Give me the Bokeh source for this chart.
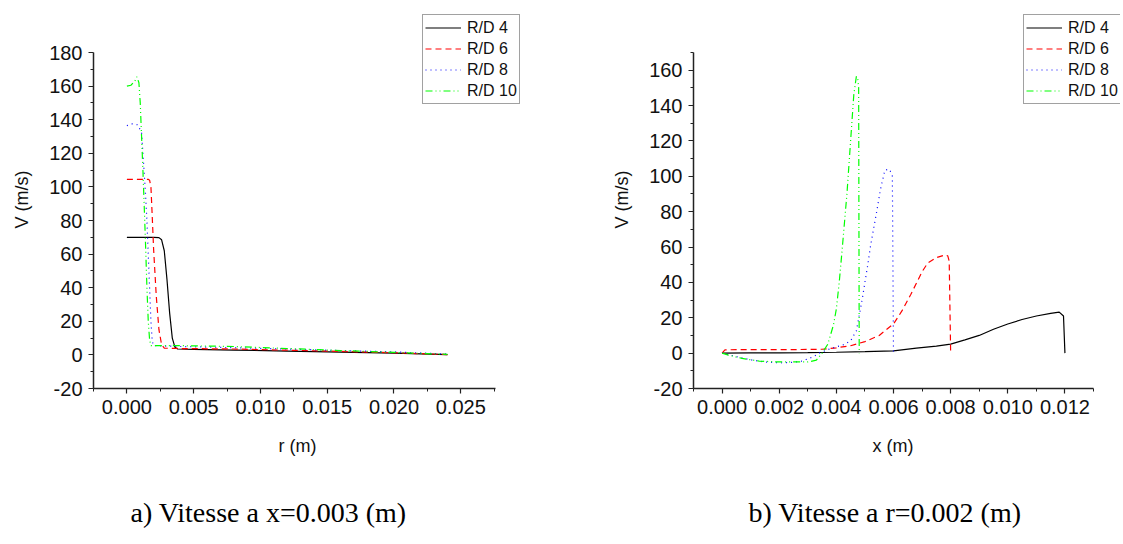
from bokeh.plotting import figure
from bokeh.models import (Range1d, FixedTicker, PrintfTickFormatter, Legend, LegendItem, Title)
from bokeh.layouts import row
from bokeh.embed import file_html
from bokeh.resources import INLINE

series_names = ["R/D 4", "R/D 6", "R/D 8", "R/D 10"]

# Panel a) velocity at x=0.003 m versus r
a_r4 = [0, 0.0005, 0.001, 0.0015, 0.002, 0.0024, 0.0026, 0.0028, 0.0030, 0.0032, 0.0034, 0.0036, 0.0038, 0.005, 0.008, 0.012, 0.016, 0.020, 0.024]
a_v4 = [70, 70, 70, 70, 70, 69.8, 68.5, 62, 45, 25, 10, 4.5, 3.5, 3.3, 2.9, 2.3, 1.7, 1.0, 0.2]
a_r6 = [0, 0.0008, 0.0016, 0.0017, 0.0018, 0.0019, 0.002, 0.0022, 0.0024, 0.0026, 0.0028, 0.004, 0.008, 0.012, 0.016, 0.020, 0.024]
a_v6 = [104.5, 104.5, 104.5, 104, 100, 82, 63, 35, 15, 6, 4, 3.8, 3.5, 2.8, 2.1, 1.3, 0.2]
a_r8 = [0, 0.0004, 0.0008, 0.001, 0.0011, 0.0012, 0.0013, 0.0014, 0.0015, 0.0016, 0.0017, 0.0018, 0.0019, 0.002, 0.004, 0.008, 0.012, 0.016, 0.020, 0.024]
a_v8 = [136.5, 137.5, 137, 134, 132, 120, 108, 95, 80, 60, 40, 20, 8, 5.5, 5, 4.3, 3.5, 2.6, 1.8, 0.5]
a_r10 = [0, 0.0003, 0.0006, 0.00075, 0.0009, 0.001, 0.0011, 0.0012, 0.0013, 0.0014, 0.0015, 0.0016, 0.0017, 0.0018, 0.004, 0.008, 0.012, 0.016, 0.020, 0.024]
a_v10 = [160, 160.5, 163, 165.5, 162, 150, 130, 110, 88, 65, 40, 20, 9, 5.5, 5.5, 5, 3.8, 2.6, 1.5, 0.3]

# Panel b) velocity at r=0.002 m versus x
b_x4 = [0, 0.001, 0.002, 0.003, 0.004, 0.005, 0.006, 0.0068, 0.0075, 0.008, 0.0085, 0.009, 0.0095, 0.01, 0.0105, 0.011, 0.0115, 0.0118, 0.01195, 0.012]
b_v4 = [0, 0.1, 0.2, 0.3, 0.5, 0.8, 1.3, 2.8, 4, 5.1, 7.5, 10, 13.5, 16.5, 19, 21, 22.5, 23.2, 21, 0]
b_x6 = [0, 0.0001, 0.0005, 0.0015, 0.0025, 0.0035, 0.004, 0.0045, 0.005, 0.0055, 0.006, 0.0063, 0.0066, 0.007, 0.0072, 0.0075, 0.0078, 0.0079, 0.00795, 0.008]
b_v6 = [0, 1.8, 2, 2, 2, 2.2, 3, 4.2, 6.5, 10, 16.5, 24, 33, 46, 51, 54, 55.5, 55, 52, 0]
b_x8 = [0, 0.0005, 0.001, 0.0015, 0.002, 0.0025, 0.0028, 0.0032, 0.0034, 0.0037, 0.004, 0.0043, 0.0045, 0.0047, 0.0049, 0.0051, 0.0052, 0.0054, 0.00555, 0.0057, 0.00585, 0.00592, 0.00596, 0.006]
b_v8 = [0, -2, -3.8, -5, -5.5, -5.2, -4.5, -2, 0, 2, 3.5, 5, 7, 12.6, 30, 50, 61, 79, 93, 103.5, 104, 102, 100, 0]
b_x10 = [0, 0.0002, 0.0007, 0.0013, 0.002, 0.0025, 0.003, 0.0033, 0.0035, 0.0037, 0.0039, 0.004, 0.0041, 0.0042, 0.00437, 0.00449, 0.00461, 0.0047, 0.00475, 0.00478, 0.0048]
b_v10 = [0, -1, -3, -4.5, -5, -5, -5, -4, 0, 5, 16, 25, 40, 58, 90, 118, 146, 156.5, 155, 150, 0]

a_xticks = [0.0, 0.005, 0.010, 0.015, 0.020, 0.025]
a_xminor = [-0.0025, 0.0025, 0.0075, 0.0125, 0.0175, 0.0225, 0.0275]
a_yticks = [-20, 0, 20, 40, 60, 80, 100, 120, 140, 160, 180]
a_yminor = [-10, 10, 30, 50, 70, 90, 110, 130, 150, 170]
b_xticks = [0.0, 0.002, 0.004, 0.006, 0.008, 0.010, 0.012]
b_xminor = [-0.001, 0.001, 0.003, 0.005, 0.007, 0.009, 0.011, 0.013]
b_yticks = [-20, 0, 20, 40, 60, 80, 100, 120, 140, 160]
b_yminor = [-10, 10, 30, 50, 70, 90, 110, 130, 150, 170]

colors = ["#000000", "#ff0000", "#0000ff", "#00ff00"]
dashes = ["solid", "6 4", "1 4", "7 3 1 3 1 3"]

SANS = "Liberation Sans"
SERIF = "Liberation Serif"

FIG_H = 544
FRAME_TOP = 10        # frame top (px) - extra room above the axis for the legend
AXIS_TOP = 52         # top end of the drawn y axis (px)
AXIS_BOTTOM = 388     # x axis position (px)


def make_panel(width, frame_left, axis_len, frame_w, xb, yb, xt, xm, yt, ym, xlabel,
               xlabel_offset, series, leg_x, caption, cap_offset):
    ppx = axis_len / (xb[1] - xb[0])
    x_end = xb[1] + (frame_w - axis_len) / ppx
    ppy = (AXIS_BOTTOM - AXIS_TOP) / (yb[1] - yb[0])
    y_end = yb[1] + (AXIS_TOP - FRAME_TOP) / ppy
    frame_h = AXIS_BOTTOM - FRAME_TOP
    p = figure(width=width, height=FIG_H, output_backend="svg", toolbar_location=None,
               x_range=Range1d(xb[0], x_end), y_range=Range1d(yb[0], y_end),
               min_border_left=frame_left, min_border_right=width - frame_left - frame_w,
               min_border_top=FRAME_TOP, min_border_bottom=FIG_H - AXIS_BOTTOM)
    p.frame_width = frame_w
    p.frame_height = frame_h
    p.grid.visible = False
    p.outline_line_color = None
    p.background_fill_color = "white"
    p.border_fill_color = "white"
    p.xaxis.bounds = xb
    p.yaxis.bounds = yb
    p.xaxis.ticker = FixedTicker(ticks=xt, minor_ticks=xm)
    p.yaxis.ticker = FixedTicker(ticks=yt, minor_ticks=ym)
    p.xaxis.formatter = PrintfTickFormatter(format="%.3f")
    p.yaxis.formatter = PrintfTickFormatter(format="%d")
    p.yaxis.axis_label = "V (m/s)"
    for ax in (p.xaxis[0], p.yaxis[0]):
        ax.axis_line_color = "#222222"
        ax.axis_line_width = 1.5
        ax.major_tick_line_color = "#222222"
        ax.minor_tick_line_color = "#222222"
        ax.major_tick_line_width = 1.2
        ax.major_tick_out = 5
        ax.major_tick_in = 0
        ax.minor_tick_out = 3
        ax.minor_tick_in = 0
        ax.major_label_text_font = SANS
        ax.major_label_text_font_size = "20px"
        ax.major_label_text_color = "#111111"
        ax.axis_label_text_font = SANS
        ax.axis_label_text_font_size = "18px"
        ax.axis_label_text_font_style = "normal"
        ax.axis_label_text_color = "#111111"
    p.xaxis.major_label_standoff = 6
    p.yaxis.major_label_standoff = 6
    p.yaxis.axis_label_standoff = 14

    items = []
    for name, (xs, ys), c, d in zip(series_names, series, colors, dashes):
        r = p.line(xs, ys, line_color=c, line_width=1.2, line_dash=d)
        items.append(LegendItem(label=name, renderers=[r]))
    leg = Legend(items=items, location=(leg_x, 284), orientation="vertical",
                 label_text_font=SANS, label_text_font_size="16px", label_text_color="#111111",
                 glyph_width=36, glyph_height=21, label_height=21, label_standoff=6,
                 spacing=0, padding=2, margin=0,
                 border_line_color="#444444", border_line_width=1.5,
                 background_fill_color="white", background_fill_alpha=1.0)
    p.add_layout(leg, "center")
    xt_title = Title(text=xlabel, align="left", offset=xlabel_offset, standoff=34,
                     text_font=SANS, text_font_size="18px", text_font_style="normal",
                     text_color="#111111")
    p.add_layout(xt_title, "below")
    cap = Title(text=caption, align="left", offset=cap_offset, standoff=44,
                text_font=SERIF, text_font_size="28px", text_font_style="normal",
                text_color="#000000")
    p.add_layout(cap, "below")
    return p


p1 = make_panel(565, 93, 402, 450, (-0.0025, 0.0276), (-20, 180), a_xticks, a_xminor,
                a_yticks, a_yminor, "r (m)", 185,
                [(a_r4, a_v4), (a_r6, a_v6), (a_r8, a_v8), (a_r10, a_v10)],
                329, "a) Vitesse a x=0.003 (m)", 37)
p2 = make_panel(558, 128, 400, 427, (-0.001, 0.013), (-20, 170), b_xticks, b_xminor,
                b_yticks, b_yminor, "x (m)", 179,
                [(b_x4, b_v4), (b_x6, b_v6), (b_x8, b_v8), (b_x10, b_v10)],
                330, "b) Vitesse a r=0.002 (m)", 55)

layout = row(p1, p2)
open("out.html", "w").write(file_html(layout, INLINE))
